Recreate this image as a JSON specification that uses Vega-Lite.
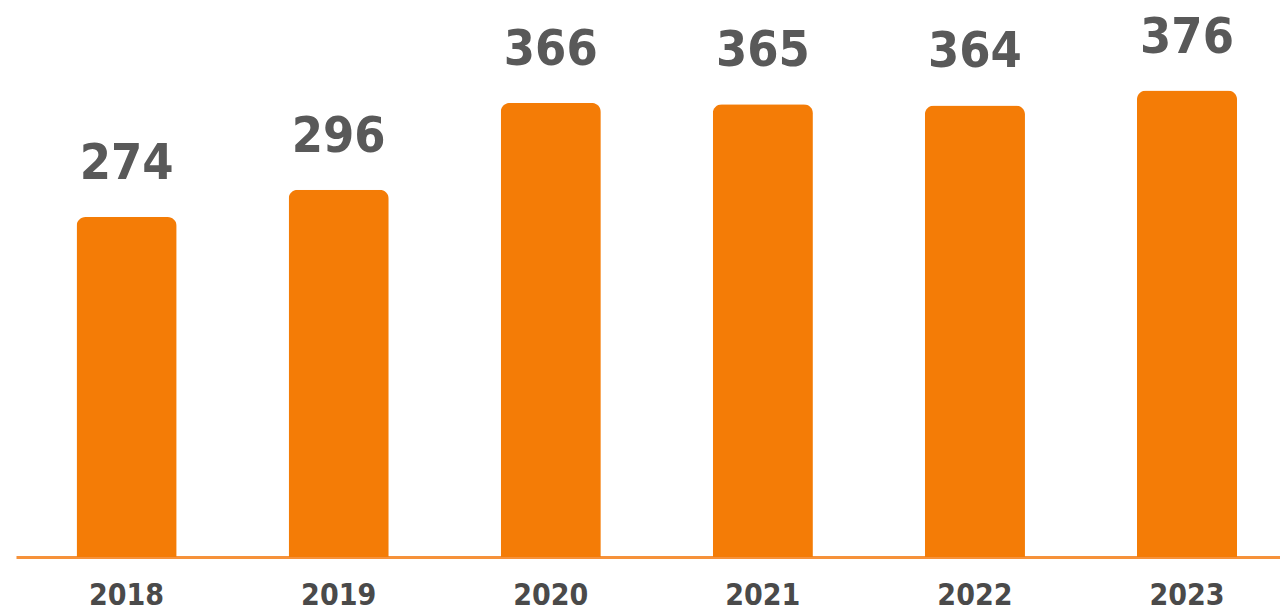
{
  "$schema": "https://vega.github.io/schema/vega-lite/v6.json",
  "width": 1264,
  "height": 557,
  "padding": {"left": 16, "top": 0, "right": 0, "bottom": 54},
  "background": "white",
  "config": {"view": {"stroke": null}},
  "data": {"values": [
    {"year": "2018", "value": 274},
    {"year": "2019", "value": 296},
    {"year": "2020", "value": 366},
    {"year": "2021", "value": 365},
    {"year": "2022", "value": 364},
    {"year": "2023", "value": 376}
  ]},
  "encoding": {
    "x": {
      "field": "year", "type": "nominal", "title": null,
      "scale": {"paddingInner": 0.528, "paddingOuter": 0.244, "align": 0.585},
      "axis": {
        "labelAngle": 0, "ticks": false, "grid": false,
        "domainColor": "#F6923A", "domainWidth": 3,
        "labelFont": "DejaVu Sans Condensed", "labelFontWeight": "bold",
        "labelFontSize": 30, "labelColor": "#4a4a4a", "labelPadding": 23
      }
    },
    "y": {
      "field": "value", "type": "quantitative",
      "scale": {"domain": [0, 449], "nice": false, "zero": true},
      "axis": null
    }
  },
  "layer": [
    {"mark": {"type": "bar", "color": "#F47C06", "cornerRadiusTopLeft": 9, "cornerRadiusTopRight": 9}},
    {"mark": {"type": "text", "dy": -38, "baseline": "alphabetic", "font": "DejaVu Sans Condensed", "fontWeight": "bold", "fontSize": 50, "color": "#595959"},
     "encoding": {"text": {"field": "value", "type": "quantitative"}}}
  ]
}
